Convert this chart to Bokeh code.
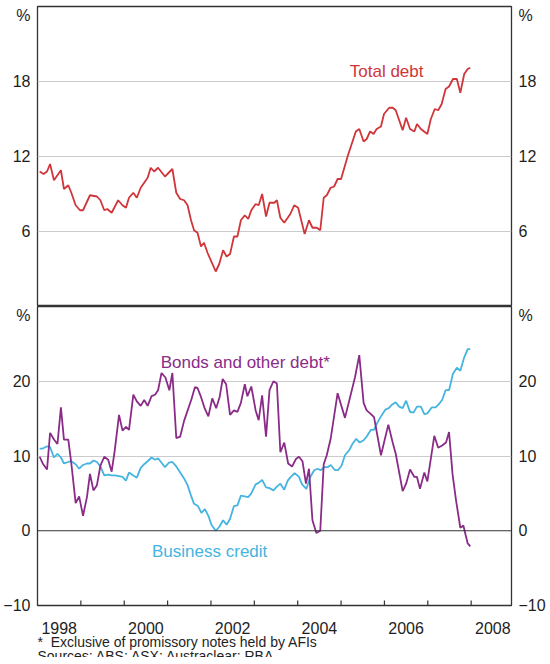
from bokeh.plotting import figure
from bokeh.models import FixedTicker, LinearAxis, Range1d, Span, Label
from bokeh.layouts import column
from bokeh.core.properties import value
from bokeh.embed import file_html
from bokeh.resources import INLINE

# ---------------- data ----------------
td_x = [1998.05, 1998.14, 1998.22, 1998.29, 1998.38, 1998.54, 1998.61, 1998.71, 1998.78, 1998.88, 1998.98,
        1999.05, 1999.21, 1999.37, 1999.45, 1999.54, 1999.61, 1999.71, 1999.86, 1999.96,
        2000.04, 2000.11, 2000.21, 2000.29, 2000.38, 2000.54, 2000.61, 2000.69, 2000.78, 2000.94,
        2001.11, 2001.20, 2001.29, 2001.38, 2001.46, 2001.54, 2001.61, 2001.69, 2001.77, 2001.84, 2001.92,
        2002.11, 2002.19, 2002.28, 2002.36, 2002.44, 2002.53, 2002.61, 2002.69, 2002.78, 2002.86, 2002.93,
        2003.03, 2003.10, 2003.18, 2003.27, 2003.35, 2003.46, 2003.52, 2003.60, 2003.69, 2003.83, 2003.92,
        2004.01, 2004.16, 2004.26, 2004.34, 2004.44, 2004.52, 2004.60, 2004.67, 2004.76, 2004.84, 2004.92,
        2005.00, 2005.15, 2005.34, 2005.42, 2005.52, 2005.59, 2005.67, 2005.75, 2005.82, 2005.92, 2005.99,
        2006.11, 2006.19, 2006.26, 2006.42, 2006.50, 2006.59, 2006.69, 2006.75, 2006.84, 2006.99,
        2007.07, 2007.16, 2007.24, 2007.32, 2007.41, 2007.49, 2007.58, 2007.67, 2007.75, 2007.84, 2007.92, 2007.98]
td_y = [10.8, 10.6, 10.8, 11.4, 10.1, 10.9, 9.4, 9.7, 9.1, 8.1, 7.7,
        7.7, 8.9, 8.8, 8.5, 7.7, 7.8, 7.5, 8.5, 8.1,
        7.9, 8.7, 9.1, 8.7, 9.5, 10.3, 11.1, 10.8, 11.1, 10.4,
        11.0, 9.1, 8.6, 8.5, 8.1, 6.9, 6.1, 5.9, 4.8, 5.1, 4.3,
        2.8, 3.4, 4.5, 4.0, 4.2, 5.6, 5.6, 6.9, 7.3, 7.0, 7.7,
        8.2, 8.1, 9.0, 7.2, 8.3, 8.3, 8.5, 7.1, 6.7, 7.4, 8.1,
        7.9, 5.8, 6.9, 6.3, 6.3, 6.1, 8.7, 8.9, 9.5, 9.6, 10.2,
        10.2, 12.0, 14.0, 14.2, 13.2, 13.4, 14.0, 13.8, 14.2, 14.4, 15.4,
        15.9, 15.9, 15.7, 14.1, 15.1, 14.2, 14.0, 14.6, 14.2, 13.8,
        15.0, 15.8, 15.7, 16.2, 17.4, 17.6, 18.2, 18.2, 17.1, 18.6, 19.0, 19.1]

bd_x = [1998.05, 1998.12, 1998.22, 1998.29, 1998.38, 1998.46, 1998.54, 1998.61, 1998.71, 1998.78, 1998.88, 1998.96,
        1999.05, 1999.14, 1999.21, 1999.29, 1999.37, 1999.45, 1999.54, 1999.63, 1999.71, 1999.78, 1999.88, 1999.96,
        2000.04, 2000.11, 2000.21, 2000.29, 2000.38, 2000.46, 2000.54, 2000.63, 2000.71, 2000.78, 2000.86, 2000.95,
        2001.04, 2001.11, 2001.20, 2001.29, 2001.38, 2001.55, 2001.63, 2001.69, 2001.77, 2001.86, 2001.94,
        2002.03, 2002.12, 2002.20, 2002.27, 2002.35, 2002.44, 2002.53, 2002.61, 2002.69, 2002.78, 2002.84, 2002.93,
        2003.03, 2003.10, 2003.18, 2003.27, 2003.35, 2003.44, 2003.52, 2003.60, 2003.69, 2003.78, 2003.87, 2003.96,
        2004.03, 2004.11, 2004.19, 2004.26, 2004.34, 2004.43, 2004.52, 2004.60, 2004.67, 2004.76, 2004.92,
        2005.09, 2005.32, 2005.42, 2005.52, 2005.59, 2005.67, 2005.76, 2005.92,
        2006.09, 2006.19, 2006.26, 2006.42, 2006.50, 2006.59, 2006.69, 2006.75, 2006.82, 2006.92, 2006.99,
        2007.15, 2007.24, 2007.33, 2007.42, 2007.49, 2007.57, 2007.65, 2007.75, 2007.82, 2007.92, 2007.98]
bd_y = [9.9, 9.0, 8.2, 13.1, 12.2, 11.6, 16.5, 12.2, 12.2, 9.0, 3.7, 4.6,
        2.0, 4.5, 7.6, 5.4, 6.1, 8.7, 9.9, 9.5, 7.9, 10.7, 15.5, 13.4,
        13.9, 13.5, 18.2, 17.3, 16.7, 17.5, 16.7, 18.0, 18.2, 18.8, 21.1, 20.5,
        18.8, 21.1, 12.4, 12.6, 14.7, 17.6, 19.2, 19.1, 17.9, 16.3, 15.3,
        17.7, 16.4, 17.9, 20.3, 19.6, 15.5, 16.1, 15.9, 17.1, 19.6, 18.0, 19.3,
        16.1, 14.8, 18.1, 12.6, 18.8, 20.0, 19.7, 10.5, 11.8, 9.0, 8.6, 9.6,
        9.9, 9.3, 6.3, 8.3, 1.4, -0.3, 0.0, 8.9, 10.1, 12.3, 18.4,
        15.1, 20.5, 23.5, 17.1, 16.1, 15.7, 15.2, 10.1,
        14.2, 11.8, 10.3, 5.3, 6.3, 8.2, 7.2, 7.2, 5.6, 7.8, 6.6,
        12.7, 11.1, 11.4, 11.8, 13.2, 7.6, 4.1, 0.4, 0.7, -1.7, -2.1]

bc_x = [1998.05, 1998.12, 1998.22, 1998.29, 1998.38, 1998.46, 1998.54, 1998.61, 1998.71, 1998.78, 1998.88, 1998.96,
        1999.05, 1999.14, 1999.21, 1999.29, 1999.37, 1999.45, 1999.54, 1999.63, 1999.71, 1999.78, 1999.88, 1999.96,
        2000.04, 2000.11, 2000.21, 2000.29, 2000.38, 2000.46, 2000.54, 2000.63, 2000.71, 2000.78, 2000.94,
        2001.03, 2001.11, 2001.20, 2001.29, 2001.38, 2001.46, 2001.54, 2001.61, 2001.70, 2001.78, 2001.86, 2001.94,
        2002.01, 2002.11, 2002.19, 2002.28, 2002.36, 2002.44, 2002.53, 2002.61, 2002.69, 2002.78, 2002.86, 2002.93,
        2003.03, 2003.10, 2003.18, 2003.27, 2003.35, 2003.44, 2003.52, 2003.60, 2003.69, 2003.77, 2003.84, 2003.93,
        2004.03, 2004.10, 2004.20, 2004.29, 2004.38, 2004.46, 2004.53, 2004.61, 2004.69, 2004.76, 2004.86, 2004.93,
        2005.01, 2005.09, 2005.19, 2005.26, 2005.35, 2005.43, 2005.52, 2005.59, 2005.69, 2005.76, 2005.84, 2005.93,
        2006.02, 2006.10, 2006.18, 2006.26, 2006.34, 2006.42, 2006.50, 2006.59, 2006.67, 2006.75, 2006.84, 2006.92, 2006.99,
        2007.09, 2007.18, 2007.25, 2007.33, 2007.41, 2007.49, 2007.58, 2007.67, 2007.75, 2007.84, 2007.92, 2007.98]
bc_y = [11.0, 11.0, 11.3, 11.2, 9.8, 10.3, 9.8, 9.0, 9.2, 9.3, 8.9, 8.3,
        8.8, 9.0, 9.0, 9.4, 9.2, 8.6, 7.4, 7.5, 7.4, 7.4, 7.3, 7.2,
        6.7, 7.8, 7.4, 7.1, 8.4, 8.9, 9.3, 9.8, 9.5, 9.7, 8.5,
        9.1, 9.2, 8.6, 7.8, 7.0, 6.1, 4.7, 3.6, 3.3, 2.4, 2.9, 2.0,
        0.8, 0.0, 0.5, 1.4, 0.8, 1.6, 3.3, 3.4, 4.7, 4.6, 4.5, 5.0,
        6.2, 6.4, 6.8, 5.8, 5.7, 5.4, 5.9, 6.3, 5.5, 6.7, 7.2, 7.7,
        7.2, 6.2, 5.6, 7.2, 8.1, 8.3, 8.1, 8.5, 8.5, 8.8, 8.1, 8.1,
        8.7, 10.1, 10.8, 11.6, 12.3, 11.8, 12.1, 12.6, 13.5, 13.5, 14.5, 15.4,
        16.2, 16.4, 16.9, 17.2, 16.6, 16.4, 17.4, 15.9, 15.8, 16.6, 16.6, 15.6, 15.7,
        16.5, 16.5, 16.9, 17.5, 18.8, 18.8, 21.0, 21.8, 21.4, 23.2, 24.3, 24.3]

year_labels = ["1998", "2000", "2002", "2004", "2006", "2008"]
year_bounds = [1999, 2000, 2001, 2002, 2003, 2004, 2005, 2006, 2007, 2008]
top_ticks = [6, 12, 18]
bottom_ticks = [-10, 0, 10, 20]
footnotes = ["*\u00a0 Exclusive of promissory notes held by AFIs",
             "Sources: ABS; ASX; Austraclear; RBA"]

# ---------------- styling ----------------
FONT = "Liberation Sans"
RED = "#d0353a"
PURPLE = "#8a2b88"
BLUE = "#45b4e0"
DARK = "#333333"
GRID = "#c9cbce"
TXT = "#1e1e1e"

X0, X1 = 1998.0, 2008.93
FRAME_W = 474
BORDER_L, BORDER_R = 32, 34
BOT_RANGE = (-10, 30)
BOT_FRAME_H = 299
PPU_BOT = BOT_FRAME_H / (BOT_RANGE[1] - BOT_RANGE[0])   # pixels per unit (bottom panel)
TICK_LEN_PX = 5


def style_yaxis(ax, ticks, pct_at):
    ax.ticker = FixedTicker(ticks=ticks + [pct_at])
    ax.major_label_overrides = {pct_at: "%"}
    ax.axis_line_color = None
    ax.major_tick_line_color = None
    ax.minor_tick_line_color = None
    ax.major_tick_in = 0
    ax.major_tick_out = 0
    ax.axis_label_standoff = 0
    ax.major_label_standoff = 7
    ax.major_label_text_font = FONT
    ax.major_label_text_font_size = "16px"
    ax.major_label_text_color = TXT


def base_fig(y_range, frame_h, min_top, min_bottom):
    p = figure(frame_width=FRAME_W, frame_height=frame_h,
               x_range=Range1d(X0, X1), y_range=Range1d(*y_range),
               output_backend="svg", toolbar_location=None,
               x_axis_location=None,
               min_border_left=BORDER_L, min_border_right=BORDER_R,
               min_border_top=min_top, min_border_bottom=min_bottom)
    p.outline_line_color = DARK
    p.outline_line_width = 1.3
    p.background_fill_color = "white"
    p.border_fill_color = "white"
    p.xgrid.visible = False
    p.ygrid.grid_line_color = GRID
    p.ygrid.grid_line_width = 1.2
    return p


# ---------------- top panel ----------------
top = base_fig((0, 24), 300, 6, 0)
top.ygrid.ticker = FixedTicker(ticks=top_ticks)
style_yaxis(top.yaxis[0], top_ticks, 23.3)
ra = LinearAxis()
top.add_layout(ra, "right")
style_yaxis(ra, top_ticks, 23.3)
top.line(td_x, td_y, line_color=RED, line_width=1.8)
top.add_layout(Label(x=2006.05, y=18.84, text="Total debt", text_align="center",
                     text_baseline="alphabetic", text_color=RED,
                     text_font=FONT, text_font_size="17px"))

# ---------------- bottom panel ----------------
bot = base_fig(BOT_RANGE, BOT_FRAME_H, 0, 9)
bot.ygrid.ticker = FixedTicker(ticks=[10, 20])
style_yaxis(bot.yaxis[0], bottom_ticks, 29)
rb = LinearAxis()
bot.add_layout(rb, "right")
style_yaxis(rb, bottom_ticks, 29)
bot.add_layout(Span(location=0, dimension="width", line_color=DARK, line_width=1.1))

# inward year-boundary ticks on the bottom edge
n = len(year_bounds)
bot.segment(x0=year_bounds, y0=[BOT_RANGE[0]] * n, x1=year_bounds,
            y1=[BOT_RANGE[0] + TICK_LEN_PX / PPU_BOT] * n,
            line_color=DARK, line_width=1.2)

bot.line(bc_x, bc_y, line_color=BLUE, line_width=1.8)
bot.line(bd_x, bd_y, line_color=PURPLE, line_width=1.8)

bot.add_layout(Label(x=2002.79, y=22.46, text="Bonds and other debt*", text_align="center",
                     text_baseline="alphabetic", text_color=PURPLE,
                     text_font=FONT, text_font_size="17px"))
bot.add_layout(Label(x=2001.97, y=-2.73, text="Business credit", text_align="center",
                     text_baseline="alphabetic", text_color=BLUE,
                     text_font=FONT, text_font_size="17px"))

# ---------------- strip below: year labels + footnotes (same x scale) ----------------
FOOT_H = 43
foot = figure(frame_width=FRAME_W, frame_height=FOOT_H,
              x_range=Range1d(X0, X1), y_range=Range1d(0, FOOT_H),
              output_backend="svg", toolbar_location=None,
              x_axis_location=None, y_axis_location=None,
              min_border_left=BORDER_L, min_border_right=BORDER_R,
              min_border_top=0, min_border_bottom=0)
foot.outline_line_color = None
foot.grid.visible = False
foot.background_fill_color = "white"
foot.border_fill_color = "white"
label_pos = [int(s) + 0.5 for s in year_labels]
foot.text(x=label_pos, y=[30] * len(label_pos), text=year_labels,
          text_font=value(FONT), text_font_size="16px", text_color=TXT,
          text_align="center", text_baseline="alphabetic")
foot.text(x=[X0, X0], y=[16, 2], text=footnotes,
          text_font=value(FONT), text_font_size="14px", text_color=TXT,
          text_align="left", text_baseline="alphabetic")

layout = column(top, bot, foot, spacing=0)
open("out.html", "w").write(file_html(layout, INLINE))
